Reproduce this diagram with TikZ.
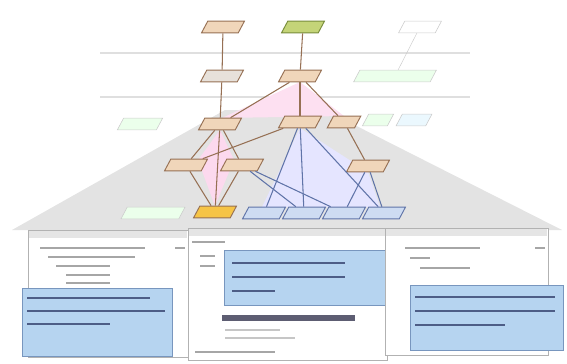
\documentclass[tikz,border=0pt]{standalone}
\usetikzlibrary{shapes.geometric}
\definecolor{tanfill}{RGB}{240,214,186}
\definecolor{tandraw}{RGB}{150,112,84}
\definecolor{grnfill}{RGB}{196,212,120}
\definecolor{grndraw}{RGB}{120,140,60}
\definecolor{yelfill}{RGB}{246,196,70}
\definecolor{bluefill}{RGB}{206,220,242}
\definecolor{bluedraw}{RGB}{96,116,168}
\definecolor{callfill}{RGB}{182,212,240}
\definecolor{calldraw}{RGB}{120,150,190}
\begin{document}
\begin{tikzpicture}
[x=0.03cm,y=-0.03cm,
para/.style={trapezium, trapezium left angle=62, trapezium right angle=118, inner xsep=13pt, inner ysep=5pt, draw=tandraw, fill=tanfill, line width=0.8pt},
faint/.style={para, draw=gray!40, fill=green!8, line width=0.5pt},
edge/.style={draw=tandraw, line width=0.9pt},
bedge/.style={draw=bluedraw, line width=0.9pt},
win/.style={draw=gray!60, fill=white, line width=0.6pt},
call/.style={draw=calldraw, fill=callfill, line width=0.6pt},
txt/.style={draw=gray!70, line width=2pt},
ctxt/.style={draw=bluedraw!80!black, line width=2.2pt}]
\useasboundingbox (0,0) rectangle (567,363);

% gray fan under the hierarchy
\fill[gray!22] (225,110) -- (325,110) -- (562,230) -- (12,230) -- cycle;

% level lines
\draw[gray!25, line width=1pt] (100,53) -- (470,53);
\draw[gray!25, line width=1pt] (100,97) -- (470,97);

% shaded areas
\fill[magenta!12] (300,82) -- (222,118) -- (344,116) -- cycle;
\fill[magenta!15] (220,130) -- (198,160) -- (215,206) -- (234,160) -- cycle;
\fill[blue!10] (300,128) -- (262,207) -- (380,207) -- (368,172) -- cycle;

% first row
\node[para] (a1) at (223,27) {};
\node[para, draw=grndraw, fill=grnfill] (a2) at (303,27) {};
\node[faint, fill=white] (a3) at (420,27) {};

% second row
\node[para, fill=tanfill!60!gray!40] (b1) at (222,76) {};
\node[para] (b2) at (300,76) {};
\node[faint, inner xsep=30pt] (b3) at (395,76) {};

% third row
\node[faint, inner xsep=14pt] (c0) at (140,124) {};
\node[para] (c1) at (220,124) {};
\node[para] (c2) at (300,122) {};
\node[para, inner xsep=9pt] (c3) at (344,122) {};
\node[faint, inner xsep=8pt] (c4) at (378,120) {};
\node[faint, fill=cyan!8, inner xsep=10pt] (c5) at (414,120) {};

% fourth row
\node[para] (d1) at (186,165) {};
\node[para] (d2) at (242,165) {};
\node[para] (d3) at (368,166) {};

% bottom row
\node[faint, inner xsep=22pt] (e0) at (153,213) {};
\node[para, fill=yelfill] (e1) at (215,212) {};
\node[para, draw=bluedraw, fill=bluefill] (e2) at (264,213) {};
\node[para, draw=bluedraw, fill=bluefill] (e3) at (304,213) {};
\node[para, draw=bluedraw, fill=bluefill] (e4) at (344,213) {};
\node[para, draw=bluedraw, fill=bluefill] (e5) at (384,213) {};

% links
\draw[edge] (a1) -- (b1);
\draw[edge] (a2) -- (b2);
\draw[draw=gray!40] (a3) -- (b3);
\draw[edge] (b1) -- (c1);
\draw[edge] (b2) -- (c1);
\draw[edge] (b2) -- (c2);
\draw[edge] (b2) -- (c3);
\draw[edge] (c3) -- (d3);
\draw[edge] (c1) -- (d1);
\draw[edge] (c1) -- (d2);
\draw[edge] (c2) -- (d1);
\draw[edge] (c1) -- (e1);
\draw[edge] (d1) -- (e1);
\draw[edge] (d2) -- (e1);
\draw[bedge] (c2) -- (e2);
\draw[bedge] (c2) -- (e3);
\draw[bedge] (d2) -- (e3);
\draw[bedge] (d2) -- (e4);
\draw[bedge] (c2) -- (e5);
\draw[bedge] (d3) -- (e4);
\draw[bedge] (d3) -- (e5);

% left window
\draw[win] (28,230) rectangle (188,357);
\fill[gray!20] (29,231) rectangle (187,238);
\draw[txt] (40,248) -- (145,248);
\draw[txt] (175,248) -- (185,248);
\draw[txt] (48,257) -- (135,257);
\draw[txt] (56,266) -- (110,266);
\draw[txt] (66,275) -- (110,275);
\draw[txt] (66,283) -- (110,283);
\draw[call] (22,288) rectangle (172,356);
\draw[ctxt] (27,298) -- (150,298);
\draw[ctxt] (27,311) -- (165,311);
\draw[ctxt] (27,324) -- (110,324);

% middle window
\draw[win] (188,228) rectangle (387,360);
\fill[gray!20] (189,229) rectangle (386,236);
\draw[txt] (192,242) -- (225,242);
\draw[txt] (200,256) -- (215,256);
\draw[txt] (200,266) -- (215,266);
\draw[call] (224,250) rectangle (385,305);
\draw[ctxt] (232,263) -- (345,263);
\draw[ctxt] (232,277) -- (345,277);
\draw[ctxt] (232,291) -- (275,291);
\fill[gray!60!blue!30!black!70] (222,315) rectangle (355,321);
\draw[txt, gray!45] (225,330) -- (280,330);
\draw[txt, gray!45] (225,338) -- (295,338);
\draw[txt] (195,352) -- (275,352);

% right window
\draw[win] (385,228) rectangle (548,355);
\fill[gray!20] (386,229) rectangle (547,236);
\draw[txt] (405,248) -- (480,248);
\draw[txt] (535,248) -- (545,248);
\draw[txt] (410,258) -- (430,258);
\draw[txt] (420,268) -- (470,268);
\draw[call] (410,285) rectangle (563,350);
\draw[ctxt] (415,297) -- (555,297);
\draw[ctxt] (415,311) -- (555,311);
\draw[ctxt] (415,325) -- (505,325);

\end{tikzpicture}
\end{document}
